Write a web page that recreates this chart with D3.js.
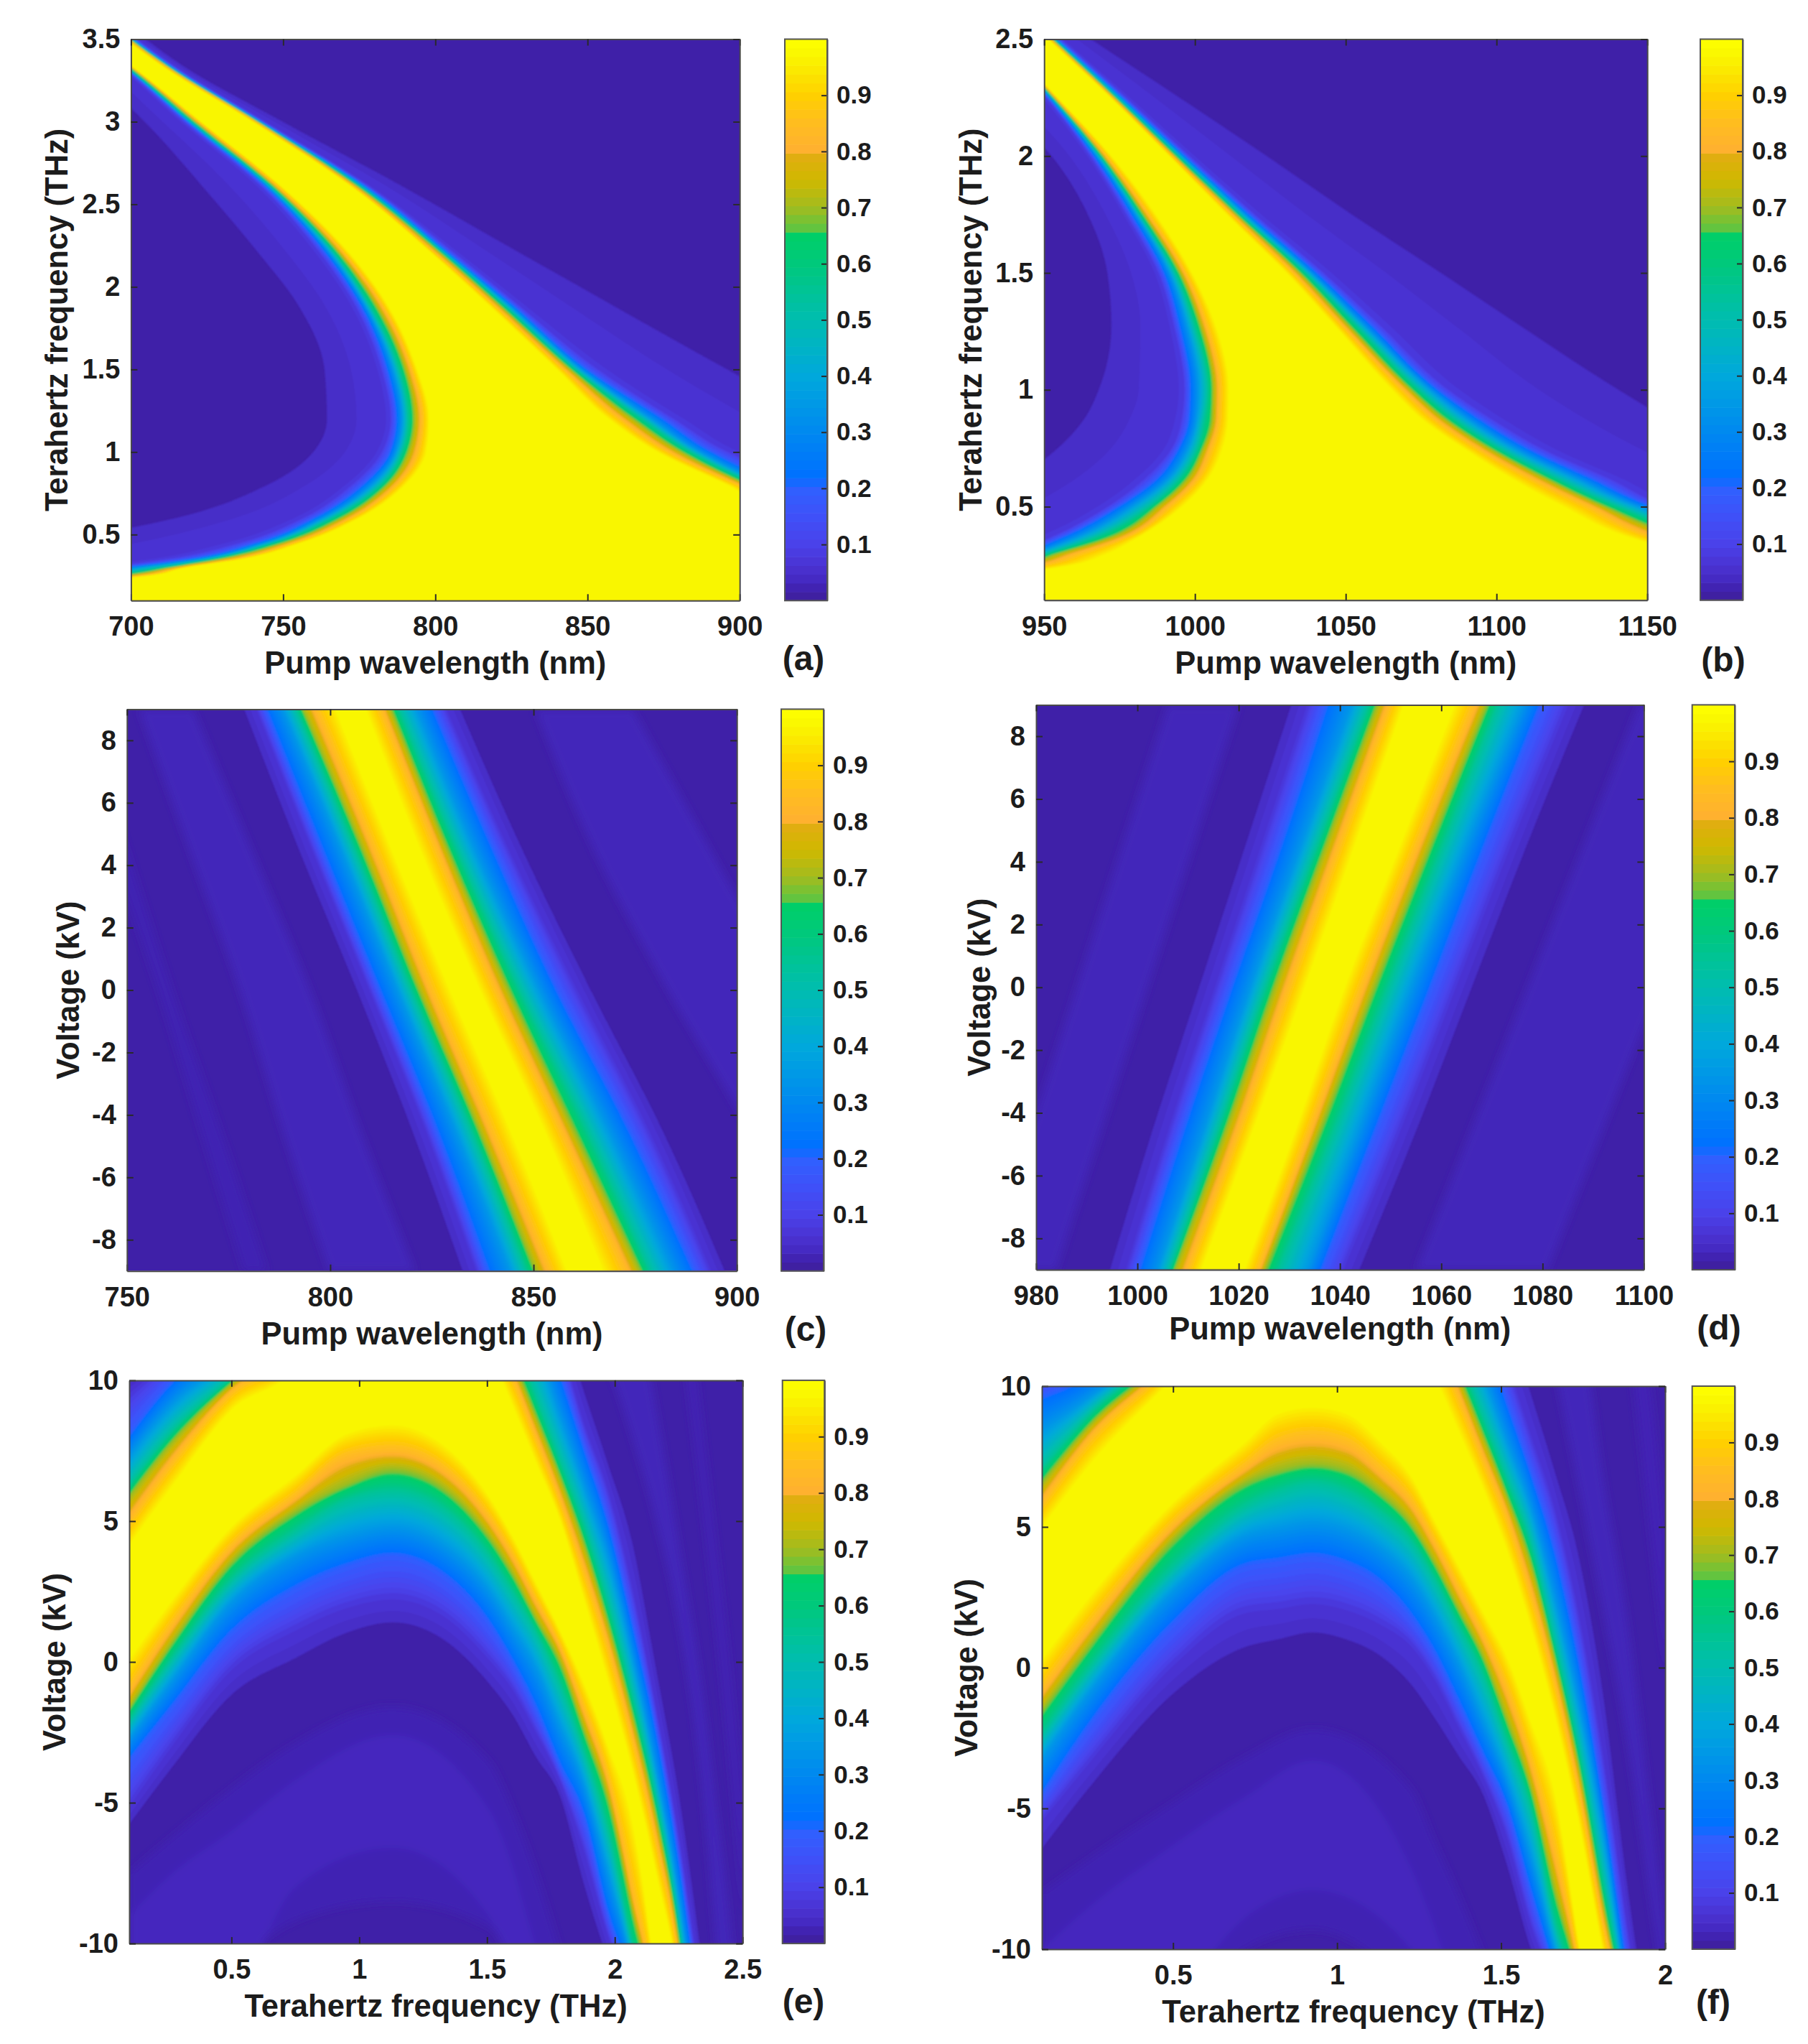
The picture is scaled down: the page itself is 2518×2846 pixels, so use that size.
<!DOCTYPE html>
<html>
<head>
<meta charset="utf-8">
<script src="https://cdn.jsdelivr.net/npm/d3@7"></script>
<style>
  html, body { margin: 0; padding: 0; background: #fff; }
  svg { display: block; }
  text { font-family: "Liberation Sans", Arial, sans-serif; font-weight: bold; fill: #1c1c1c; }
</style>
</head>
<body>
<svg id="chart" width="2518" height="2846"></svg>
<script>
// Values. Each row holds where a level is crossed,
// one number per entry of crossLevels, on the low side and on the high side.
// Crossings outside the axis range are estimates, they end up clipped.
const crossLevels = [0.035, 0.08, 0.2, 0.35, 0.55, 0.7, 0.85, 0.97];

const colourStops = [0, 0.015, 0.035, 0.06, 0.1, 0.15, 0.2, 0.22, 0.3, 0.4, 0.5, 0.6, 0.655, 0.66, 0.7, 0.75, 0.79, 0.8, 0.85, 0.9, 0.97, 1];
const colourValues = ["#3e1f9a", "#3f20a8", "#4428c0", "#4a32d0", "#4a42ea", "#3f50f8", "#2f60ff", "#0070ff", "#0088f0", "#00a8dc", "#00bdb0", "#00c97c", "#00cf66", "#5cc542", "#a0bc20", "#d0b800", "#e0ae10", "#ffb030", "#ffbc20", "#ffd000", "#f9f600", "#ffff00"];
const colourbarTicks = [0.1, 0.2, 0.3, 0.4, 0.5, 0.6, 0.7, 0.8, 0.9];

// (a) pump wavelength against terahertz frequency, rows in THz
const aRows = [0.1, 0.25, 0.3, 0.35, 0.45, 0.6, 0.8, 1, 1.2, 1.5, 1.9, 2.2, 2.6, 3, 3.34, 3.5];
const aLow = [
  [400, 420, 440, 460, 480, 500, 520, 540],
  [520, 650, 670, 680, 690, 696, 702, 706],
  [570, 688, 696, 702, 710, 713, 716, 718],
  [610, 710, 718, 722, 726, 729, 733, 736],
  [650, 735, 741, 744, 747, 750, 753, 756],
  [700, 756, 760, 763, 766, 769, 772, 775],
  [735, 772, 776, 779, 782, 784, 787, 790],
  [752, 782, 785, 787, 789, 791, 794, 797],
  [757, 785, 787, 789, 791, 793, 795.5, 798],
  [757, 782, 784, 786, 788, 790, 792, 794],
  [748, 773, 775, 776.5, 778, 780, 782, 784],
  [735, 762, 764, 765.5, 767, 768.5, 770, 772],
  [717, 743, 744.5, 745.5, 746.5, 747.5, 748.5, 750],
  [700, 717, 718.5, 719, 720, 721, 722, 723],
  [680, 696, 697, 697.5, 698, 699, 699.5, 700],
  [668, 684, 685, 685.5, 686, 687, 687.5, 688]
];
const aHigh = [
  [2000, 1950, 1900, 1850, 1800, 1750, 1700, 1650],
  [1900, 1800, 1750, 1700, 1650, 1600, 1550, 1500],
  [1800, 1700, 1650, 1600, 1550, 1500, 1450, 1400],
  [1700, 1550, 1500, 1450, 1400, 1350, 1300, 1250],
  [1400, 1200, 1150, 1120, 1100, 1080, 1060, 1040],
  [1070, 975, 955, 945, 938, 932, 925, 918],
  [1020, 927, 916, 910, 906, 903, 900, 896],
  [964, 897, 891, 887, 884, 881, 877, 873],
  [943, 879, 875, 871, 868, 865, 861, 857],
  [911, 854, 850, 848, 846, 844.5, 842.5, 840],
  [868, 827, 825, 823.5, 822, 820.5, 819, 817],
  [836, 807, 805, 804, 803, 802, 800.5, 799],
  [794, 779, 778, 777, 776, 775, 774, 773],
  [752, 744, 743, 742.5, 742, 741.5, 741, 740],
  [718, 714, 713, 712.5, 712, 711.5, 711, 710],
  [706, 702, 701, 700.5, 700, 699.5, 699, 698]
];

// (b) pump wavelength against terahertz frequency, rows in THz
const bRows = [0.1, 0.25, 0.3, 0.36, 0.51, 0.617, 0.74, 0.878, 1, 1.276, 1.5, 1.75, 2, 2.31, 2.5];
const bLow = [
  [500, 700, 720, 740, 760, 780, 800, 820],
  [800, 921, 926, 931, 937, 942, 948, 959],
  [830, 938, 942, 946, 951, 954.5, 961, 971],
  [860, 950, 954, 959, 965, 970, 975, 980],
  [905, 971.7, 975.5, 980, 985.7, 988.3, 992, 996.6],
  [925, 982.5, 987, 990.8, 994.6, 997.2, 1000.4, 1004.2],
  [940, 991.5, 994, 997.2, 1000.4, 1002.3, 1004.8, 1008.9],
  [952, 995.3, 997.8, 1000.4, 1003, 1005.7, 1007.7, 1011],
  [958, 996.2, 998.2, 1001, 1004.2, 1005.9, 1008, 1011.2],
  [965, 992.7, 994.6, 997.2, 999.7, 1001.7, 1003.6, 1006.8],
  [965, 987.6, 989.5, 991.5, 993.4, 994.9, 996.6, 999],
  [960, 977, 978.7, 980.4, 981.6, 982.9, 984.4, 987],
  [948, 965, 966.3, 967.5, 968.5, 969.4, 970.4, 972.3],
  [920, 946.6, 947.3, 948, 948.5, 949, 949.5, 950],
  [905, 933, 933.6, 934.2, 934.7, 935.2, 935.8, 936.6]
];
const bHigh = [
  [1800, 1700, 1650, 1600, 1550, 1500, 1450, 1400],
  [1383.7, 1268.9, 1249.7, 1237, 1224.2, 1211.5, 1198.7, 1186],
  [1332.6, 1230.6, 1212.8, 1202.5, 1192.3, 1183.4, 1174.5, 1164.3],
  [1281.6, 1198.7, 1189.8, 1182.1, 1171.9, 1164.3, 1155.4, 1146.4],
  [1243.4, 1155.4, 1150, 1145.2, 1138.8, 1134.3, 1129.8, 1120.9],
  [1217.9, 1138.8, 1132.4, 1127.3, 1120.9, 1117.1, 1112.6, 1105.6],
  [1198.7, 1117.1, 1112, 1107.5, 1102.4, 1099.2, 1095.4, 1090.3],
  [1177, 1098.6, 1094.1, 1090.3, 1085.8, 1082.7, 1079.5, 1075],
  [1160.5, 1084.6, 1080.7, 1078.2, 1074.4, 1071.8, 1069.3, 1065.4],
  [1124.1, 1061.9, 1058.7, 1056.2, 1053.6, 1051.1, 1049.1, 1046.3],
  [1095.4, 1043.1, 1040.6, 1038.6, 1036.7, 1034.8, 1032.9, 1030.4],
  [1063.5, 1020.2, 1018.2, 1016.6, 1015, 1013.8, 1012.5, 1010.6],
  [1032.9, 998.5, 996.9, 995.7, 994.6, 993.4, 992.7, 991.5],
  [993.4, 972.3, 971, 970.2, 969.1, 968.5, 967.9, 967.2],
  [969, 955.7, 954.5, 953.8, 953.2, 952.6, 952.2, 951.3]
];

// (c) pump wavelength against voltage, rows in kV
const cRows = [-9, -4.5, 0, 4.5, 9];
const cLow = [
  [831.3, 836.1, 838.5, 844.2, 848.1, 850.4, 853.8, 858.1],
  [818.9, 823.7, 826, 830.8, 834.7, 836.6, 839.4, 844.2],
  [805.4, 809.8, 811.9, 816.5, 819.9, 821.8, 824.6, 829.3],
  [791.1, 795.7, 797.8, 802.6, 806, 807.9, 810.7, 815],
  [777.7, 782, 784, 788.3, 791.6, 793.2, 796.4, 801.2]
];
const cHigh = [
  [898.3, 893.5, 889.7, 884.4, 878.7, 876.3, 872.9, 867.2],
  [883, 878.2, 873.9, 868.6, 863.4, 860, 857.1, 852.8],
  [865.3, 860.5, 856, 851.5, 846.7, 843.9, 841, 836.9],
  [848.5, 843.7, 840.4, 835.6, 831.3, 828.9, 826.5, 822.2],
  [833.2, 828.4, 825.6, 821.3, 817, 815, 812.7, 808.8]
];
// faint side stripes: [row, low edge, high edge], with one shade per stripe
const cStripes = [
  [[-9, 799.7, 820.8], [-4.5, 788.3, 807.4], [0, 777.7, 795], [4.5, 765.3, 780.6], [9, 752.9, 766.3]],
  [[-9, 778.7, 784.4], [-4.5, 768.2, 773], [0, 757.7, 761], [4.5, 746, 750], [9, 735, 739]],
  [[-9, 920, 950], [-4.5, 903, 930], [0, 883, 912.6], [4.5, 864.8, 893.5], [9, 850.4, 874.4]]
];
const cStripeLevels = [0.03, 0.024, 0.03];

// (d) pump wavelength against voltage, rows in kV
const dRows = [-9, -4.5, 0, 4.5, 9];
const dLow = [
  [993.4, 997.9, 1000.1, 1004, 1006.4, 1007.3, 1009.8, 1012.6],
  [1001.9, 1006.4, 1008.9, 1013.2, 1016, 1017.5, 1020, 1022.9],
  [1011, 1015.5, 1018.3, 1022.3, 1025.2, 1027, 1029.7, 1033],
  [1020.1, 1024.6, 1028, 1032.3, 1035.4, 1037.1, 1039.6, 1042.8],
  [1029.2, 1033.7, 1037, 1042.2, 1045.6, 1047.3, 1049.6, 1052.5]
];
const dHigh = [
  [1045, 1040.5, 1036.5, 1033.7, 1028, 1025.2, 1024, 1021.2],
  [1056.4, 1051.9, 1047.3, 1043.9, 1039.1, 1036.2, 1034.3, 1031.4],
  [1067.2, 1062.7, 1058.1, 1054.2, 1049.6, 1046.8, 1044.5, 1041],
  [1078, 1073.5, 1068.7, 1065, 1060.4, 1057.8, 1055.3, 1051.9],
  [1089.4, 1084.9, 1079.7, 1076.3, 1071.2, 1069, 1066.7, 1062.7]
];
const dStripes = [
  [[-9, 970, 984], [-4.5, 979, 993], [0, 988, 1002], [4.5, 997, 1011], [9, 1006, 1020]],
  [[-9, 1055, 1081], [-4.5, 1066, 1092], [0, 1077, 1103], [4.5, 1088, 1114], [9, 1099, 1125]]
];
const dStripeLevels = [0.03, 0.03];

// (e) terahertz frequency against voltage, columns in THz
const eCols = [0.1, 0.27, 0.5, 0.75, 0.95, 1.13, 1.32, 1.505, 1.598, 1.692, 1.786, 1.88, 1.973, 2.067, 2.161, 2.254, 2.348, 2.503];
const eLow = [
  [-6, -5.1, -3.5, -2.75, -2.1, -1.66, -1.03, 0.07],
  [-4, -2.91, -1.58, -0.64, 0.15, 0.7, 1.33, 2.2],
  [-1.5, -0.24, 1.01, 2.11, 2.9, 3.53, 4.08, 4.78],
  [-0.24, 1.17, 2.58, 3.76, 4.63, 5.33, 5.88, 6.6],
  [0.7, 1.96, 3.37, 4.47, 5.73, 6.28, 7.3, 8.08],
  [1.09, 2.27, 3.75, 4.78, 6.04, 6.83, 7.53, 8.4],
  [0.54, 1.73, 3.13, 4.2, 5.47, 6.22, 6.92, 7.75],
  [-1.05, 0.16, 1.4, 2.56, 3.8, 4.47, 5.14, 5.9],
  [-2.18, -0.9, 0, 1.2, 2.5, 3.15, 3.8, 4.48],
  [-3.71, -2.46, -1.7, -0.22, 1.03, 1.52, 2.17, 2.79],
  [-4.99, -4.2, -3.74, -2.3, -0.84, -0.01, 0.54, 1.1],
  [-8.37, -6.65, -5.51, -4.36, -3.21, -2.44, -1.71, -0.79],
  [-10.9, -9.68, -8.97, -7.49, -6, -4.86, -4.13, -3],
  [-13, -12, -11.5, -10.8, -10, -8.79, -8.09, -5.65],
  [-18, -17, -16, -15, -14, -13, -12.5, -11.5],
  [-25, -24.5, -24, -23.5, -23, -22.5, -22, -21],
  [-33, -32.5, -32, -31.5, -31, -30.5, -30.2, -30],
  [-48, -47.5, -47, -46.5, -46, -45.5, -45, -44]
];
const eHigh = [
  [10.1, 9.5, 8.08, 7.3, 6.28, 5.88, 5, 4.16],
  [11.2, 10.8, 10, 9.18, 8.24, 7.85, 7.14, 6.28],
  [13, 12.5, 11.5, 10.8, 10.1, 9.9, 9.6, 8.95],
  [16, 15, 14, 13, 12, 11.5, 11, 10.5],
  [22, 21, 20, 19, 18, 17, 16, 15],
  [24, 23, 22, 21, 20, 19, 18, 17],
  [22, 21, 20, 19, 18, 17, 16, 15],
  [18, 17, 16, 15, 13.5, 12.8, 12, 11.2],
  [17.7, 16.1, 15.1, 13.3, 11.7, 10.8, 10.2, 9.17],
  [15.1, 13.8, 12.8, 11.3, 9.44, 8.7, 8.01, 7.09],
  [12.6, 11.3, 10.3, 8.76, 7.17, 6.56, 5.79, 5.03],
  [10, 8.4, 7.64, 6.28, 4.9, 4.18, 3.3, 2.22],
  [7.39, 6.05, 5.03, 3.79, 2.16, 1.39, 0.65, -0.65],
  [4.9, 2.6, 1.48, 0.3, -1.1, -1.8, -2.56, -3.78],
  [0.3, -1.67, -2.37, -3.75, -4.8, -5.43, -6.2, -7.47],
  [-4.35, -6.45, -7.2, -8.5, -9.6, -10.1, -10.7, -11.7],
  [-10.6, -12.5, -13.5, -15, -17, -18, -19, -20],
  [-22, -24, -26, -28, -30, -31, -32, -34]
];
const eStripes = [
  [[0.1, -16, -7.5], [0.27, -14, -6.2], [0.5, -11, -4.5], [0.75, -9.2, -2.9], [1.13, -8.5, -1.6], [1.505, -9.4, -3.5], [1.598, -10.5, -5.2], [1.692, -12, -7.5], [1.777, -14, -10], [1.9, -16, -14]],
  [[0.1, -18, -9], [0.27, -15, -7.5], [0.5, -12.5, -6], [0.75, -8, -4.2], [1.13, -6.6, -2.6], [1.505, -9, -5.2], [1.598, -11, -7.2], [1.655, -12.5, -9], [1.75, -15, -12]],
  [[1.973, 10.6, 16.4], [2.067, 8, 13.8], [2.161, 5, 9], [2.254, 1.2, 4], [2.348, -5, -1.5], [2.395, -10, -5], [2.442, -15.5, -8.5], [2.503, -20, -14.9]],
  [[2.282, 10, 13], [2.367, 3.6, 6.3], [2.442, -2.75, 0.43], [2.503, -9, -5.3]]
];
const eStripeLevels = [0.024, 0.033, 0.03, 0.026];

// (f) terahertz frequency against voltage, columns in THz
const fCols = [0.1, 0.244, 0.5, 0.718, 0.82, 0.925, 1.03, 1.132, 1.225, 1.298, 1.371, 1.444, 1.517, 1.59, 1.663, 1.736, 1.809, 1.882, 2.003];
const fLow = [
  [-6.8, -5.4, -4.6, -3.26, -2.4, -1.53, -0.82, 0.27],
  [-4.6, -3.34, -2.08, -0.9, -0.04, 0.75, 1.45, 2.47],
  [-1.3, 0.12, 1.53, 2.71, 3.57, 4.52, 5.07, 5.85],
  [0.27, 2, 3.57, 4.67, 5.7, 6.56, 7.11, 7.97],
  [0.6, 2.15, 3.75, 4.95, 6.25, 7, 7.97, 9],
  [0.87, 2.32, 3.92, 5.15, 6.56, 7.22, 8.21, 9.23],
  [0.6, 2.1, 3.65, 4.9, 6.25, 7, 7.97, 9],
  [0, 1.6, 3, 4.25, 5.5, 6.2, 7, 8],
  [-1.1, 0.85, 1.8, 3.2, 4.5, 5.1, 5.9, 6.8],
  [-2.31, -0.36, 0.47, 1.82, 3.13, 3.7, 4.43, 5.2],
  [-3.52, -2.07, -1.28, 0.15, 1.47, 2.05, 2.77, 3.6],
  [-4.73, -3.79, -3.09, -1.87, -0.25, 0.41, 1.14, 1.99],
  [-7.35, -5.93, -4.92, -3.95, -2.61, -1.84, -0.78, 0.38],
  [-10.3, -9.06, -7.96, -6.66, -4.99, -4.26, -3.33, -1.93],
  [-12.4, -11.4, -10.8, -10, -9, -7.91, -6.58, -4.48],
  [-16, -15, -14, -13, -12, -11.2, -10.6, -9.7],
  [-22, -21, -20, -19, -18, -17, -16, -15],
  [-28, -27, -26, -25, -24, -23, -22, -21],
  [-42, -41, -40, -39, -38, -37, -36, -35]
];
const fHigh = [
  [11, 10.33, 9.7, 8.44, 7.11, 6.56, 5.85, 4.99],
  [11.5, 10.9, 10.4, 9.6, 9, 8.6, 8.13, 7.19],
  [15, 14, 13, 12.2, 11.7, 11.3, 10.9, 10.3],
  [20, 19, 18, 17, 16, 15, 14, 13],
  [22, 21, 20, 19, 18, 17, 16, 15],
  [24, 23, 22, 21, 20, 19, 18, 17],
  [24, 23, 22, 21, 20, 19, 18, 17],
  [24, 23, 22, 21, 20, 19, 18, 17],
  [24, 21, 19.5, 17.5, 15.5, 14.8, 13.9, 12.4],
  [21.4, 18.4, 17, 15.2, 13.3, 12.6, 11.8, 10.4],
  [18.5, 15.9, 14.5, 12.8, 11.1, 10.4, 9.68, 8.41],
  [15.7, 13.3, 12, 10.5, 8.93, 8.28, 7.51, 6.42],
  [13.1, 10.8, 9.5, 8.1, 6.75, 6.11, 5.45, 4.21],
  [10.3, 8.2, 7, 5.74, 4.46, 3.75, 2.74, 1.48],
  [7.49, 5.59, 4.26, 2.5, 0.97, 0.37, -0.4, -1.67],
  [4.75, 1.84, 0.37, -1.22, -2.76, -3.46, -4.22, -5.43],
  [0, -3.07, -4.57, -5.65, -7.35, -8.24, -8.88, -10],
  [-6.96, -9, -10.4, -11.5, -12.2, -12.7, -13, -14],
  [-16, -18, -20, -22, -24, -24.5, -25, -26]
];
const fStripes = [
  [[0.1, -20, -8], [0.244, -18, -6.8], [0.5, -14, -4.8], [0.718, -10, -3.2], [0.925, -9.3, -2.2], [1.225, -11.5, -4.3], [1.298, -12.5, -6.2], [1.371, -14, -8.1], [1.437, -15, -10], [1.55, -18, -14]],
  [[0.1, -19, -10], [0.244, -16, -8.5], [0.5, -12, -6.3], [0.718, -8.9, -4.6], [0.925, -7.9, -3.3], [1.225, -10, -7.1], [1.32, -12, -10], [1.4, -15, -13]],
  [[1.663, 10.6, 17.7], [1.736, 6.4, 13.2], [1.809, 2.1, 6.9], [1.882, -2.5, 1.9], [1.955, -8.2, -5], [2.003, -12, -10]],
  [[1.904, 10, 13], [1.955, 4.7, 10], [2.003, -0.2, 4.6]]
];
const fStripeLevels = [0.024, 0.033, 0.03, 0.026];

const baseLevel = 0.015;

const pumpTitle = "Pump wavelength (nm)";
const thzTitle = "Terahertz frequency (THz)";
const voltTitle = "Voltage (kV)";

// Axis frames in page pixels, per panel
const panels = [
  { tag: "(a)", byRow: true, along: aRows, low: aLow, high: aHigh, stripes: [], stripeLevels: [],
    xDomain: [700, 900], yDomain: [0.1, 3.5], xTicks: [700, 750, 800, 850, 900], yTicks: [0.5, 1, 1.5, 2, 2.5, 3, 3.5],
    xTitle: pumpTitle, yTitle: thzTitle,
    box: [182.4, 54.5, 1030.2, 836.3], bar: [1093, 1152], xTitleGap: 102, yTitleGap: 88, tagAt: [1119, 933] },
  { tag: "(b)", byRow: true, along: bRows, low: bLow, high: bHigh, stripes: [], stripeLevels: [],
    xDomain: [950, 1150], yDomain: [0.1, 2.5], xTicks: [950, 1000, 1050, 1100, 1150], yTicks: [0.5, 1, 1.5, 2, 2.5],
    xTitle: pumpTitle, yTitle: thzTitle,
    box: [1454.2, 54.5, 2294.2, 835.7], bar: [2368, 2427], xTitleGap: 102, yTitleGap: 87, tagAt: [2400, 935] },
  { tag: "(c)", byRow: true, along: cRows, low: cLow, high: cHigh, stripes: cStripes, stripeLevels: cStripeLevels,
    xDomain: [750, 900], yDomain: [-9, 9], xTicks: [750, 800, 850, 900], yTicks: [-8, -6, -4, -2, 0, 2, 4, 6, 8],
    xTitle: pumpTitle, yTitle: voltTitle,
    box: [176.8, 987.4, 1026.2, 1769.7], bar: [1088, 1147], xTitleGap: 102, yTitleGap: 67, tagAt: [1122, 1867] },
  { tag: "(d)", byRow: true, along: dRows, low: dLow, high: dHigh, stripes: dStripes, stripeLevels: dStripeLevels,
    xDomain: [980, 1100], yDomain: [-9, 9], xTicks: [980, 1000, 1020, 1040, 1060, 1080, 1100], yTicks: [-8, -6, -4, -2, 0, 2, 4, 6, 8],
    xTitle: pumpTitle, yTitle: voltTitle,
    box: [1443, 981.4, 2289.4, 1768], bar: [2356.7, 2416], xTitleGap: 97, yTitleGap: 64, tagAt: [2394, 1865] },
  { tag: "(e)", byRow: false, along: eCols, low: eLow, high: eHigh, stripes: eStripes, stripeLevels: eStripeLevels,
    xDomain: [0.1, 2.5], yDomain: [-10, 10], xTicks: [0.5, 1, 1.5, 2, 2.5], yTicks: [-10, -5, 0, 5, 10],
    xTitle: thzTitle, yTitle: voltTitle,
    box: [180, 1921.9, 1034.2, 2706.1], bar: [1089.7, 1148.3], xTitleGap: 102, yTitleGap: 89, tagAt: [1119, 2803] },
  { tag: "(f)", byRow: false, along: fCols, low: fLow, high: fHigh, stripes: fStripes, stripeLevels: fStripeLevels,
    xDomain: [0.1, 2], yDomain: [-10, 10], xTicks: [0.5, 1, 1.5, 2], yTicks: [-10, -5, 0, 5, 10],
    xTitle: thzTitle, yTitle: voltTitle,
    box: [1451, 1930, 2319, 2714], bar: [2356.7, 2416], xTitleGap: 102, yTitleGap: 90, tagAt: [2386, 2804] }
];

const svg = d3.select("#chart");
const colour = d3.scaleLinear().domain(colourStops).range(colourValues).interpolate(d3.interpolateRgb);

// The reference is a slightly soft raster, a small blur takes the steps off the shades
const defs = svg.append("defs");
[["soft", 1.2], ["softer", 6]].forEach(([id, amount]) => {
  defs.append("filter")
    .attr("id", id)
    .attr("filterUnits", "userSpaceOnUse")
    .attr("x", 0).attr("y", 0).attr("width", 2518).attr("height", 2846)
    .append("feGaussianBlur").attr("stdDeviation", amount);
});

// Shades drawn from the lowest crossing level up, like a 64 step colormap
const shades = d3.range(Math.ceil(crossLevels[0] * 64), Math.floor(crossLevels[7] * 64) + 1)
  .map(i => i / 64)
  .concat([crossLevels[7]]);

function crossingsAt(level, values) {
  const i = Math.min(d3.bisectRight(crossLevels, level) - 1, crossLevels.length - 2);
  const t = (level - crossLevels[i]) / (crossLevels[i + 1] - crossLevels[i]);
  return values.map(row => row[i] + (row[i + 1] - row[i]) * t);
}

function styleAxis(sel) {
  sel.selectAll("path.domain").attr("stroke", "#4a4a4a").attr("stroke-width", 2);
  sel.selectAll(".tick line").attr("stroke", "#2a2a2a").attr("stroke-width", 2);
  sel.selectAll("text")
    .attr("font-family", '"Liberation Sans", Arial, sans-serif')
    .attr("font-weight", "bold");
}

function drawPanel(p, idx) {
  const [x0, y0, x1, y1] = p.box;
  const x = d3.scaleLinear().domain(p.xDomain).range([x0, x1]);
  const y = d3.scaleLinear().domain(p.yDomain).range([y1, y0]);
  const g = svg.append("g").attr("class", "panel");
  const clipId = "clip-" + idx;

  g.append("clipPath").attr("id", clipId)
    .append("rect")
    .attr("x", x0).attr("y", y0)
    .attr("width", x1 - x0).attr("height", y1 - y0);

  const clipped = g.append("g").attr("clip-path", `url(#${clipId})`);
  clipped.append("rect")
    .attr("x", x0).attr("y", y0)
    .attr("width", x1 - x0).attr("height", y1 - y0)
    .attr("fill", colour(baseLevel));

  const band = p.byRow
    ? d3.area().y(d => y(d.at)).x0(d => x(d.lo)).x1(d => x(d.hi)).curve(d3.curveMonotoneY)
    : d3.area().x(d => x(d.at)).y0(d => y(d.lo)).y1(d => y(d.hi)).curve(d3.curveMonotoneX);

  // Faint stripes of the side lobes sit under the main band
  const under = clipped.append("g").attr("filter", "url(#softer)");
  p.stripes.forEach((stripe, i) => {
    under.append("path")
      .attr("d", band(stripe.map(s => ({ at: s[0], lo: s[1], hi: s[2] }))))
      .attr("fill", colour(p.stripeLevels[i]));
  });

  const plot = clipped.append("g").attr("filter", "url(#soft)");
  shades.forEach(level => {
    const lows = crossingsAt(level, p.low);
    const highs = crossingsAt(level, p.high);
    const rows = p.along.map((at, i) => ({ at: at, lo: lows[i], hi: highs[i] }));
    plot.append("path")
      .attr("d", band(rows))
      .attr("fill", colour(level));
  });

  // Axes, ticks point inwards and are mirrored on the far sides
  const plain = d => String(d);
  const gx = g.append("g").attr("transform", `translate(0,${y1})`)
    .call(d3.axisBottom(x).tickValues(p.xTicks).tickFormat(plain).tickSizeInner(-9).tickSizeOuter(0).tickPadding(22));
  gx.selectAll("text").style("font-size", "38px");
  styleAxis(gx);

  const gy = g.append("g").attr("transform", `translate(${x0},0)`)
    .call(d3.axisLeft(y).tickValues(p.yTicks).tickFormat(plain).tickSizeInner(-9).tickSizeOuter(0).tickPadding(15));
  gy.selectAll("text").style("font-size", "38px");
  styleAxis(gy);

  const gt = g.append("g").attr("transform", `translate(0,${y0})`)
    .call(d3.axisTop(x).tickValues(p.xTicks).tickFormat("").tickSizeInner(-9).tickSizeOuter(0));
  styleAxis(gt);

  const gr = g.append("g").attr("transform", `translate(${x1},0)`)
    .call(d3.axisRight(y).tickValues(p.yTicks).tickFormat("").tickSizeInner(-9).tickSizeOuter(0));
  styleAxis(gr);

  g.append("text")
    .attr("x", (x0 + x1) / 2)
    .attr("y", y1 + p.xTitleGap)
    .attr("text-anchor", "middle")
    .style("font-size", "43.5px")
    .text(p.xTitle);

  g.append("text")
    .attr("transform", `translate(${x0 - p.yTitleGap},${(y0 + y1) / 2}) rotate(-90)`)
    .attr("text-anchor", "middle")
    .style("font-size", "43.5px")
    .text(p.yTitle);

  g.append("text")
    .attr("x", p.tagAt[0])
    .attr("y", p.tagAt[1])
    .attr("text-anchor", "middle")
    .style("font-size", "48px")
    .text(p.tag);

  // Colourbar
  const [barLeft, barRight] = p.bar;
  const barY = d3.scaleLinear().domain([0, 1]).range([y1, y0]);
  const barSteps = d3.range(64);
  g.append("g").selectAll("rect")
    .data(barSteps)
    .join("rect")
    .attr("x", barLeft)
    .attr("width", barRight - barLeft)
    .attr("y", d => barY((d + 1) / 64))
    .attr("height", d => barY(d / 64) - barY((d + 1) / 64) + 0.6)
    .attr("fill", d => colour((d + 0.5) / 64));

  const gb = g.append("g").attr("transform", `translate(${barRight},0)`)
    .call(d3.axisRight(barY).tickValues(colourbarTicks).tickFormat(d3.format(".1f")).tickSizeInner(-8).tickSizeOuter(0).tickPadding(13));
  gb.selectAll("text").style("font-size", "35px");
  styleAxis(gb);

  g.append("rect")
    .attr("x", barLeft).attr("y", y0)
    .attr("width", barRight - barLeft).attr("height", y1 - y0)
    .attr("fill", "none")
    .attr("stroke", "#555")
    .attr("stroke-width", 2);
}

panels.forEach(drawPanel);
</script>
</body>
</html>
